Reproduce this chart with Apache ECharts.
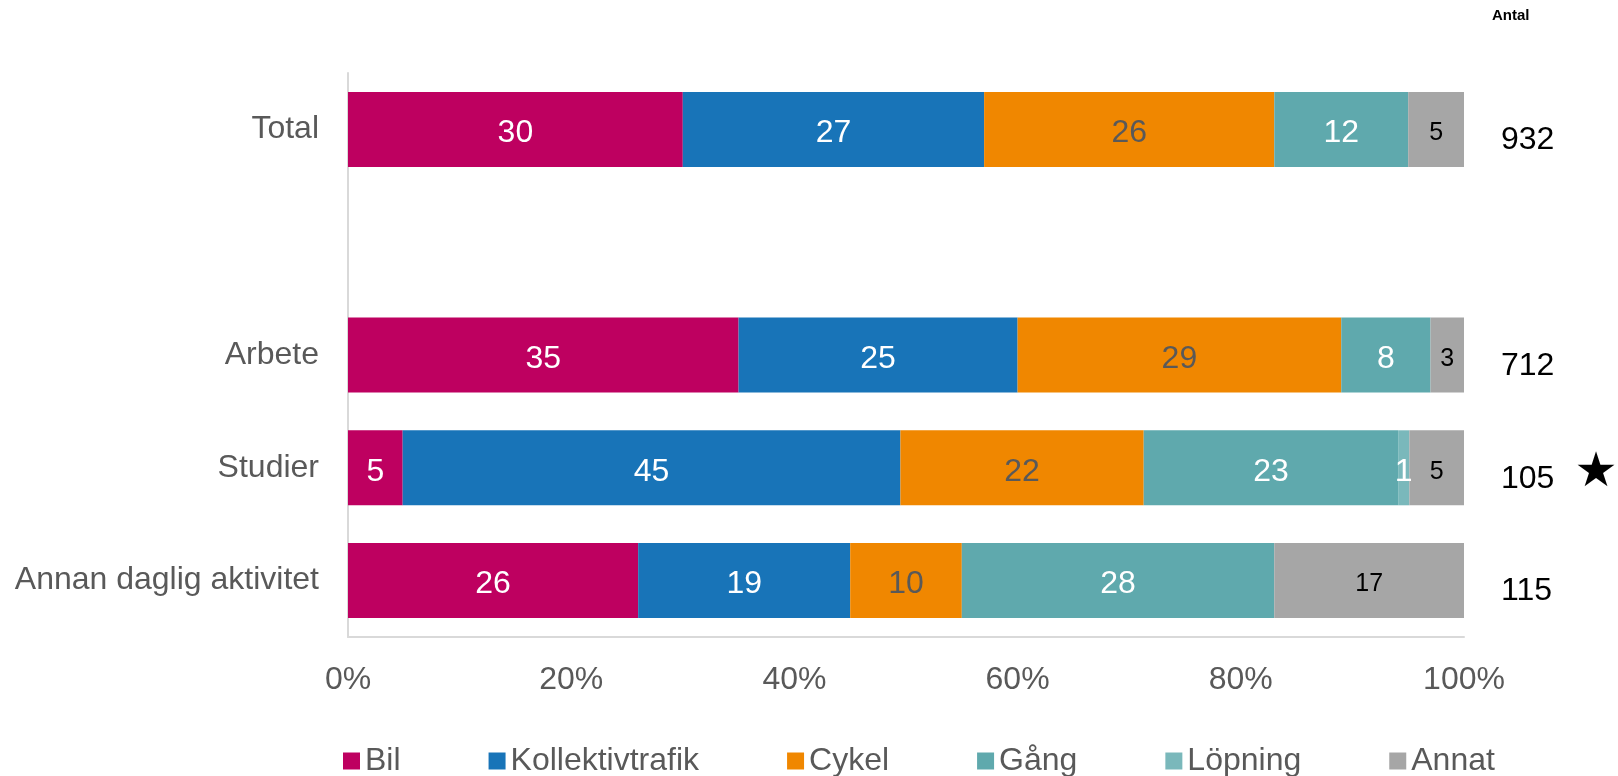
<!DOCTYPE html>
<html>
<head>
<meta charset="utf-8">
<script src="https://cdn.jsdelivr.net/npm/echarts@6/dist/echarts.min.js"></script>
<style>
  html, body { margin: 0; padding: 0; background: #fff; }
  #main { width: 1618px; height: 776px; }
</style>
</head>
<body>
<div id="main"></div>
<script>
// kategorier uppifrån och ned (tom rad = mellanrum efter Total)
var categories = ['Total', '', 'Arbete', 'Studier', 'Annan daglig aktivitet'];
var antal = ['932', '', '712', '105', '115'];

var seriesNames = ['Bil', 'Kollektivtrafik', 'Cykel', 'Gång', 'Löpning', 'Annat'];
var bil = [30, null, 35, 4.9, 26];
var kollektivtrafik = [27, null, 25, 44.6, 19];
var cykel = [26, null, 29, 21.8, 10];
var gang = [12, null, 8, 22.8, 28];
var lopning = [0, null, 0, 1.0, 0];
var annat = [5, null, 3, 4.9, 17];

var xTicks = [0, 20, 40, 60, 80, 100];

var colors = ['#BE0060', '#1874B8', '#F08700', '#5FA9AD', '#7AB8BB', '#A6A6A6'];
var labelColors = ['#fff', '#fff', '#595959', '#fff', '#fff', '#000'];
var values = [bil, kollektivtrafik, cykel, gang, lopning, annat];

var font = "'Liberation Sans', Arial, sans-serif";

var series = seriesNames.map(function (name, i) {
    return {
        name: name,
        type: 'bar',
        stack: 'total',
        barWidth: 75,
        data: values[i],
        itemStyle: { color: colors[i] },
        label: {
            show: true,
            position: 'inside',
            offset: [0, 4],
            color: labelColors[i],
            fontSize: i == 5 ? 25 : 32,
            fontFamily: font,
            formatter: function (p) {
                if (p.value == null || p.value < 0.5) return '';
                return Math.round(p.value);
            }
        }
    };
});

var option = {
    backgroundColor: '#FFFFFF',
    animation: false,
    title: {
        text: 'Antal',
        left: 1487,
        top: 3,
        textStyle: { fontSize: 15, fontWeight: 'bold', color: '#000', fontFamily: font }
    },
    legend: {
        data: seriesNames,
        left: 338,
        top: 740,
        itemWidth: 17,
        itemHeight: 17,
        itemGap: 88,
        icon: 'rect',
        textStyle: { fontSize: 32, color: '#595959', fontFamily: font }
    },
    grid: { left: 348, right: 154, top: 73, bottom: 139, outerBoundsMode: 'none', containLabel: false },
    xAxis: {
        type: 'value',
        min: xTicks[0],
        max: xTicks[xTicks.length - 1],
        interval: 20,
        axisLine: { show: true, lineStyle: { color: '#D9D9D9', width: 2 } },
        axisTick: { show: false },
        splitLine: { show: false },
        axisLabel: { margin: 27, fontSize: 32, color: '#595959', fontFamily: font, formatter: '{value}%' }
    },
    yAxis: [{
        type: 'category',
        inverse: true,
        data: categories,
        axisLine: { show: true, lineStyle: { color: '#D9D9D9', width: 2 } },
        axisTick: { show: false },
        axisLabel: { margin: 29, fontSize: 32, color: '#595959', fontFamily: font, padding: [8, 0, 0, 0] }
    }, {
        type: 'category',
        inverse: true,
        position: 'right',
        data: antal,
        axisLine: { show: false },
        axisTick: { show: false },
        axisLabel: {
            margin: 37,
            fontSize: 32,
            color: '#000',
            fontFamily: font,
            align: 'left',
            padding: [22, 0, 0, 0],
            formatter: function (v) {
                return v == '105' ? v + '{s|★}' : v;
            },
            rich: {
                s: { fontSize: 48, color: '#000', padding: [0, 0, 10, 20], fontFamily: 'DejaVu Sans' }
            }
        }
    }],
    series: series
};

var myChart = echarts.init(document.getElementById('main'));
myChart.setOption(option);
</script>
</body>
</html>
